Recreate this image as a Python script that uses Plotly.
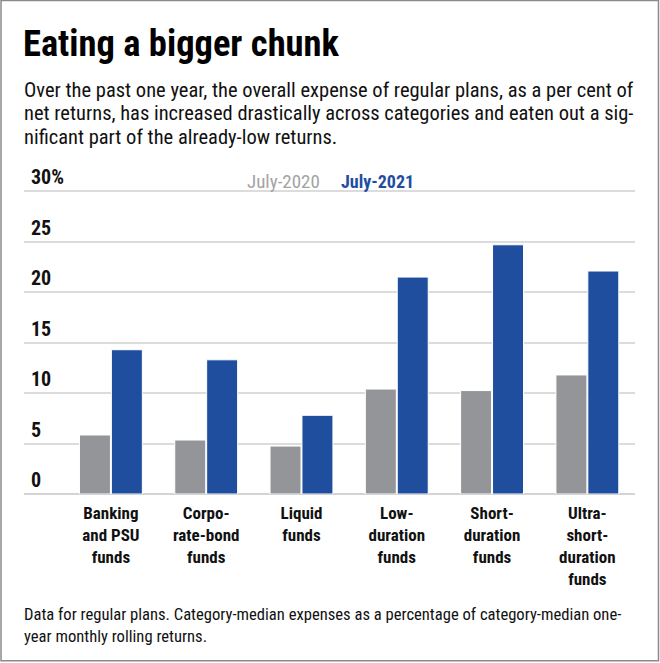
import plotly.graph_objects as go

categories = [
    "Banking<br>and PSU<br>funds",
    "Corpo-<br>rate-bond<br>funds",
    "Liquid<br>funds",
    "Low-<br>duration<br>funds",
    "Short-<br>duration<br>funds",
    "Ultra-<br>short-<br>duration<br>funds",
]
july_2020 = [5.85, 5.35, 4.75, 10.4, 10.25, 11.8]
july_2021 = [14.3, 13.3, 7.8, 21.5, 24.7, 22.1]
y_ticks = [0, 5, 10, 15, 20, 25, 30]
y_tick_text = ["0", "5", "10", "15", "20", "25", "30%"]

GREY = "#939598"
BLUE = "#1f4e9f"
FONT = "Liberation Sans Narrow, Arial Narrow, Roboto Condensed, sans-serif"

W, H = 660, 663
L, R = 24, 635.5                 # plot area, px
BOT = 494.3                      # y of the zero line
PX_PER_UNIT = (494.3 - 191.7) / 30
Y_MAX = 33.5                     # extra head-room so the "30%" label fits inside
TOP = BOT - Y_MAX * PX_PER_UNIT


def px(x):
    return (x - L) / (R - L)


def py(y):
    return (BOT - y) / (BOT - TOP)


fig = go.Figure()
fig.add_trace(go.Bar(x=categories, y=july_2020, name="July-2020",
                     marker=dict(color=GREY, line=dict(color="white", width=1))))
fig.add_trace(go.Bar(x=categories, y=july_2021, name="July-2021",
                     marker=dict(color=BLUE, line=dict(color="white", width=1))))

fig.update_layout(
    width=W, height=H,
    paper_bgcolor="white", plot_bgcolor="white",
    font=dict(family=FONT, color="#111"),
    margin=dict(l=L, r=W - R, t=TOP, b=H - BOT, pad=0),
    barmode="group", bargap=0.33, bargroupgap=0.03,
    showlegend=False,
    xaxis=dict(range=[-0.912, 5.5],
               tickfont=dict(size=17, color="#111", weight="bold"),
               ticklabelstandoff=7,
               showgrid=False, ticks="", fixedrange=True),
    yaxis=dict(range=[0, Y_MAX], tickvals=y_ticks, ticktext=y_tick_text,
               ticklabelposition="inside top", ticklabelstandoff=4,
               tickfont=dict(size=20, color="#111", weight="bold"),
               gridcolor="#dcdcdc", gridwidth=1.5,
               zeroline=True, zerolinecolor="#d4d4d4", zerolinewidth=1.5,
               showline=False, ticks="", fixedrange=True),
)

# frame around the whole graphic
fig.add_shape(type="rect", xref="paper", yref="paper",
              x0=px(1), x1=px(659), y0=py(661), y1=py(1),
              line=dict(color="#8a8a8a", width=1.5), layer="above")


def note(text, x, y, size, color="#111"):
    fig.add_annotation(text=text, xref="paper", yref="paper", x=px(x), y=py(y),
                       xanchor="left", yanchor="middle", align="left",
                       showarrow=False, font=dict(size=size, color=color))


note("<b>Eating a bigger chunk</b>", 21, 44, 36.5, "#000")
subtitle = [
    "Over the past one year, the overall expense of regular plans, as a per cent of",
    "net returns, has increased drastically across categories and eaten out a sig-",
    "nificant part of the already-low returns.",
]
for i, line in enumerate(subtitle):
    note(line, 22, 90 + i * 23.5, 20.5)

note("July-2020", 245, 182, 19, "#a3a3a3")
note("<b>July-2021</b>", 339, 182, 18, BLUE)

footer = [
    "Data for regular plans. Category-median expenses as a percentage of category-median one-",
    "year monthly rolling returns.",
]
for i, line in enumerate(footer):
    note(line, 22, 615 + i * 22, 16.6)

fig.write_html("out.html", config={"displayModeBar": False},
               post_script="document.body.style.margin='0';")
